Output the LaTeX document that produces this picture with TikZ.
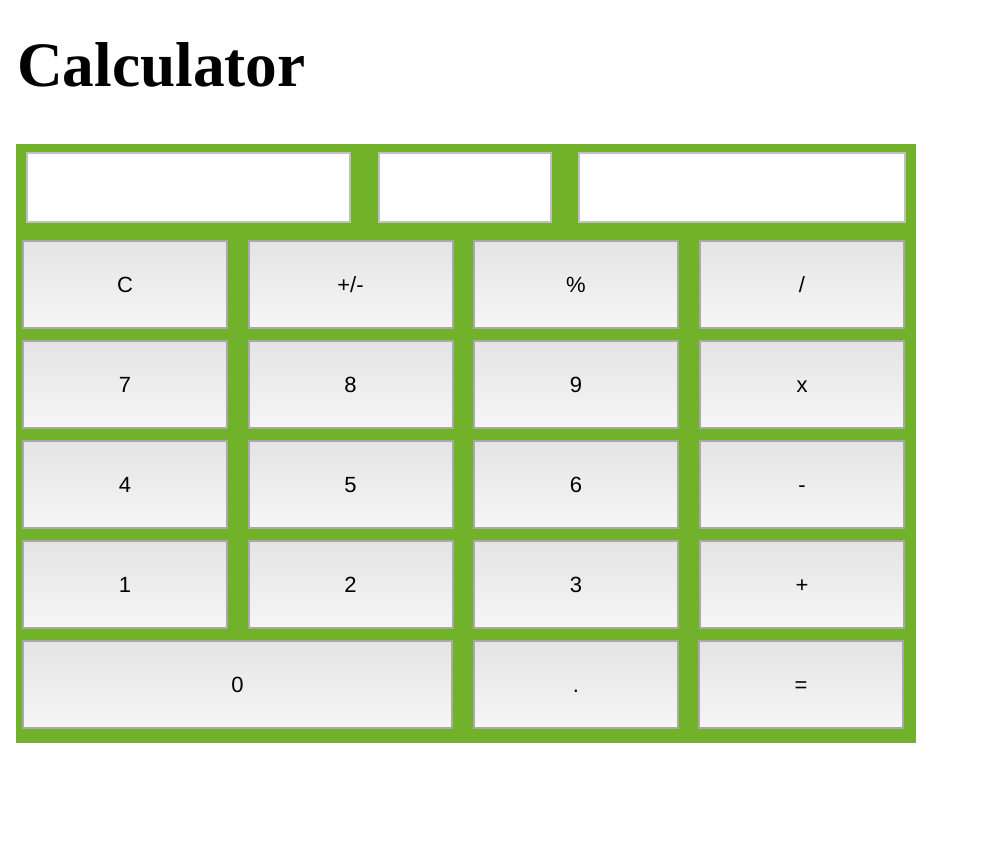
\documentclass[tikz,border=0pt]{standalone}
\usepackage{fontspec}
\setmainfont{Liberation Sans}
\newfontfamily\titlefont{Liberation Serif}
\usetikzlibrary{positioning}
\definecolor{panelgreen}{RGB}{114,178,42}
\definecolor{keyborder}{RGB}{169,169,169}
\definecolor{keytop}{RGB}{228,228,228}
\definecolor{keybottom}{RGB}{246,246,246}
\definecolor{screenborder}{RGB}{192,192,192}
\tikzset{%
    key/.style={%
        draw=keyborder, line width=1.5pt, top color=keytop, bottom color=keybottom,
        inner sep=0pt, minimum width=153pt, minimum height=65.25pt,
        text height=12pt, text depth=0pt, font=\fontsize{16.5}{20}\selectfont
    },
    screen/.style={%
        draw=screenborder, line width=1.5pt, fill=white,
        inner sep=0pt, minimum height=51.75pt
    }
}

\begin{document}
\begin{tikzpicture}[x=0.75pt, y=-0.75pt]
    \fill[white] (0,0) rectangle (984,846);
    \node[anchor=base west, inner sep=0pt, font=\titlefont\bfseries\fontsize{47.5}{56}\selectfont]
        (title) at (17,86) {Calculator};

    \fill[panelgreen] (16,144) rectangle (916,743);

    \node[screen, minimum width=242.25pt] (left) at (188.5,187.5) {};
    \node[screen, minimum width=129pt] (mid) at (465,187.5) {};
    \node[screen, minimum width=244.5pt] (right) at (742,187.5) {};

    \node[key] (clear) at (125,284.5) {C};
    \node[key] (sign) at (350.5,284.5) {+/-};
    \node[key] (pct) at (576,284.5) {\%};
    \node[key] (div) at (802,284.5) {/};

    \node[key] (7) at (125,384.5) {7};
    \node[key] (8) at (350.5,384.5) {8};
    \node[key] (9) at (576,384.5) {9};
    \node[key] (mul) at (802,384.5) {x};

    \node[key] (4) at (125,484.5) {4};
    \node[key] (5) at (350.5,484.5) {5};
    \node[key] (6) at (576,484.5) {6};
    \node[key] (sub) at (802,484.5) {-};

    \node[key] (1) at (125,584.5) {1};
    \node[key] (2) at (350.5,584.5) {2};
    \node[key] (3) at (576,584.5) {3};
    \node[key] (add) at (802,584.5) {+};

    \node[key, minimum width=321.75pt] (0) at (237.5,684.5) {0};
    \node[key] (dot) at (576,684.5) {.};
    \node[key] (eq) at (801,684.5) {=};
\end{tikzpicture}
\end{document}
